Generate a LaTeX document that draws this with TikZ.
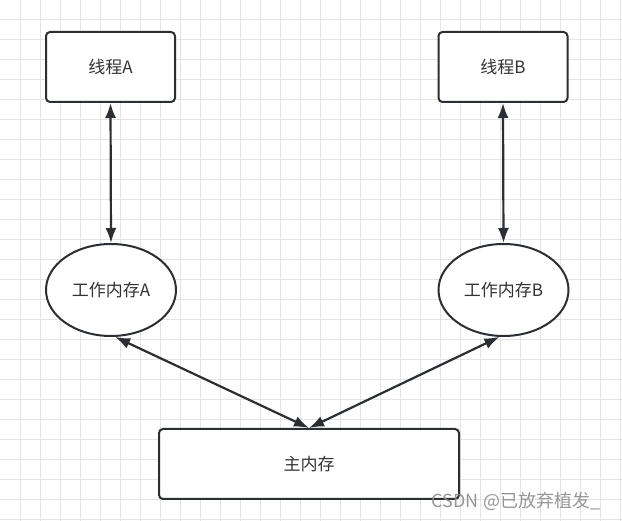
\documentclass[tikz,border=0pt]{standalone}
\usepackage{fontspec}
\newfontfamily\cjk{Noto Sans CJK SC}
\usetikzlibrary{arrows.meta, shapes.geometric}
\tikzset{>={Latex[length=15pt, width=11pt]}}
\definecolor{ink}{HTML}{2B2F33}
\definecolor{gridgray}{HTML}{E4E4E4}

\begin{document}
\begin{tikzpicture}[x=1pt, y=-1pt,
    box/.style={draw=ink, line width=2pt, rounded corners=4pt, fill=white, minimum width=129pt, minimum height=70pt, inner sep=0pt, font=\cjk\fontsize{17}{20}\selectfont, text=black!80},
    mem/.style={ellipse, draw=ink, line width=2pt, fill=white, minimum width=130pt, minimum height=92pt, inner sep=0pt, font=\cjk\fontsize{17}{20}\selectfont, text=black!80},
    link/.style={<->, draw=ink, line width=2.2pt}]
    \useasboundingbox(0, 0) rectangle (622, 521);
    \fill[white](0, 0) rectangle (622, 521);
    % background grid
    \foreach \k in {1, ..., 31}\draw[gridgray, line width=1pt](20*\k, 0)--(20*\k, 521);
    \foreach \k in {1, ..., 26}\draw[gridgray, line width=1pt](0, 20*\k)--(622, 20*\k);

    \node[box](thrA)at(110.5, 67){线程A};
    \node[box](thrB)at(503, 67){线程B};
    \node[mem](wmA)at(111, 290){工作内存A};
    \node[mem](wmB)at(503.5, 290){工作内存B};
    \node[box, minimum width=300pt](main)at(309, 464){主内存};

    \draw[link](thrA.south)--(wmA.north);
    \draw[link](thrB.south)--(wmB.north);
    \draw[link](wmA.-85)--(main.north);
    \draw[link](wmB.-95)--(main.north);

    \node[font=\cjk\fontsize{18}{20}\selectfont, text=black!45, text opacity=.9](mark)at(516, 501){CSDN @已放弃植发\_};
\end{tikzpicture}
\end{document}
